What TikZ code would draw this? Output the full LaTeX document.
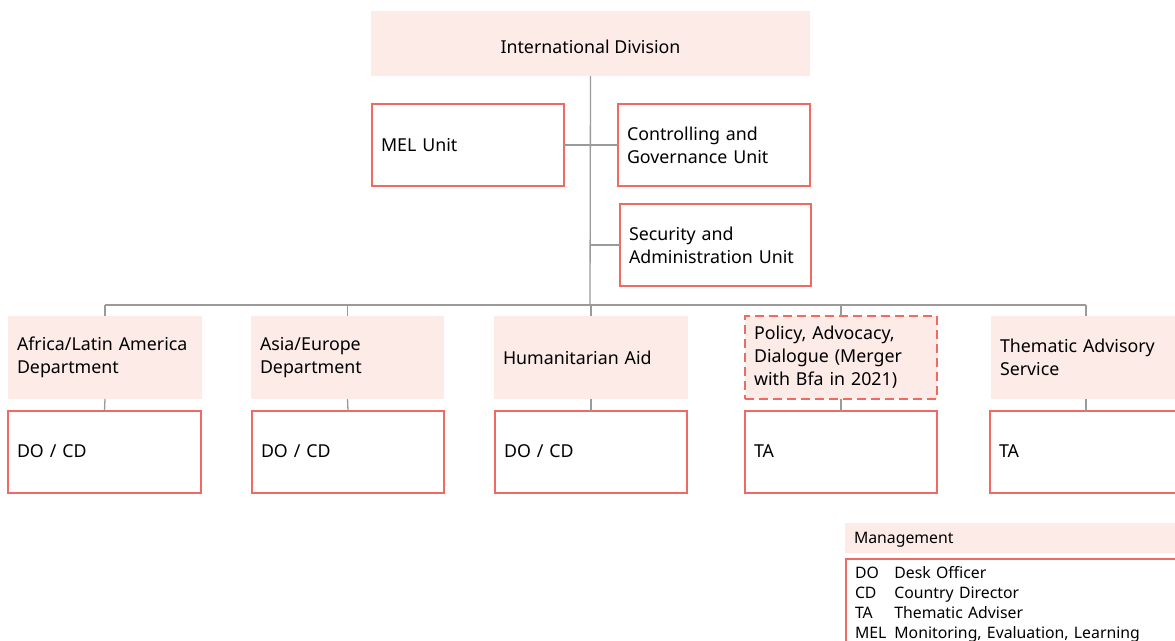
\documentclass[tikz,border=0pt]{standalone}
\usepackage{fontspec}
\setmainfont{Noto Sans}
\definecolor{accent}{HTML}{EE6A62}
\definecolor{paleaccent}{HTML}{FDEBE7}
\definecolor{linkgray}{HTML}{9A9A9A}
\begin{document}
\begin{tikzpicture}[x=1pt,y=-1pt,
  every node/.style={inner sep=0pt, outer sep=0pt},
  bodytext/.style={font=\fontsize{17.8}{23}\selectfont},
  legtext/.style={font=\fontsize{15.8}{20}\selectfont},
  headbox/.style={bodytext, fill=paleaccent, minimum height=83, text width=#1-18, inner xsep=9, align=left},
  unitbox/.style={bodytext, draw=accent, line width=2, fill=white, minimum height=82, text width=#1-18, inner xsep=9, align=left},
  mergedbox/.style={headbox=#1, draw=accent, line width=2, dash pattern=on 9 off 5},
  link/.style={draw=linkgray, line width=1.3},
]
\useasboundingbox (0,0) rectangle (1175,640);
\clip (0,0) rectangle (1175,640);

% top of the organisation
\node[bodytext, fill=paleaccent, minimum width=439, minimum height=65] (id) at (590.5,43.5) {\raisebox{-9.5pt}[0pt][0pt]{International Division}};
\node[unitbox=192] (mel) at (468,145) {MEL Unit};
\node[unitbox=192] (cgu) at (714,145) {Controlling and\\Governance Unit};
\node[unitbox=191] (sau) at (715.5,245) {Security and\\Administration Unit};

% departments
\node[headbox=194] (d1) at (105,357.5) {Africa/Latin America\\Department};
\node[headbox=193] (d2) at (347.5,357.5) {Asia/Europe\\Department};
\node[headbox=194] (d3) at (591,357.5) {Humanitarian Aid};
\node[mergedbox=192] (d4) at (841,357.5) {Policy, Advocacy,\\Dialogue (Merger\\with Bfa in 2021)};
\node[headbox=194, anchor=west] (d5) at (991,357.5) {Thematic Advisory\\Service};

% staff boxes
\node[unitbox=193] (s1) at (104.5,451.5) {DO / CD};
\node[unitbox=192] (s2) at (348,451.5) {DO / CD};
\node[unitbox=192] (s3) at (591,451.5) {DO / CD};
\node[unitbox=192] (s4) at (841,451.5) {TA};
\node[unitbox=200, anchor=west] (s5) at (990,451.5) {TA};

% connectors
\coordinate (bar) at (590,305);
\draw[link] (id.south) -- (bar);
\draw[link] (mel.east) -- (cgu.west);
\draw[link] (sau.west) -- (sau.west -| bar);
\draw[link] (d1.north |- bar) -- (1086,305) coordinate (barend);
\foreach \k in {1,2,3,4} {
  \draw[link] (d\k.north) -- (d\k.north |- bar);
  \draw[link] (d\k.south) -- (s\k.north);
}
\draw[link] (barend) -- (barend |- d5.north);
\draw[link] (barend |- d5.south) -- (barend |- s5.north);

% legend
\node[legtext, fill=paleaccent, anchor=north west, minimum height=30, text width=331, inner xsep=9, align=left] (leg) at (845,523) {\raisebox{-5.5pt}[0pt][0pt]{Management}};
\node[legtext, draw=accent, line width=2, fill=white, anchor=north west, text width=331, inner xsep=9, inner ysep=5, align=left] (legbody) at (846,559)
  {\begin{tabular}{@{}l@{\hspace{8pt}}l@{}}
    DO & Desk Officer\\
    CD & Country Director\\
    TA & Thematic Adviser\\
    MEL & Monitoring, Evaluation, Learning\\
    \phantom{M} & \phantom{M}
  \end{tabular}};
\end{tikzpicture}
\end{document}
